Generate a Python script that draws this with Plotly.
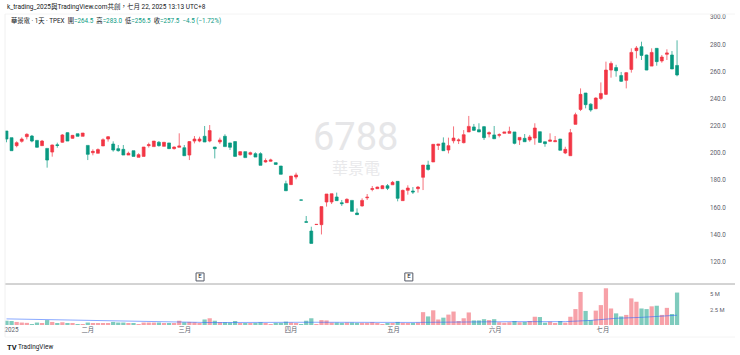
import plotly.graph_objects as go

opens = [216.2,211.3,205.4,208.6,212.0,212.5,209.3,205.4,203.4,200.7,206.0,207.9,215.0,210.8,214.2,212.3,205.6,200.2,199.8,205.2,
210.3,206.6,203.2,202.7,198.5,201.7,196.8,197.5,205.4,204.7,207.9,204.9,207.4,203.2,204.2,203.9,198.5,208.8,208.8,212.3,
208.8,204.4,208.1,212.3,207.4,208.4,198.5,201.0,199.0,199.5,199.5,193.4,193.9,192.9,190.4,177.4,176.7,182.3,165.4,149.4,
142.5,147.3,147.2,163.9,163.9,167.6,163.4,163.4,165.1,155.8,161.0,167.0,173.2,173.7,173.7,175.9,176.6,179.1,164.9,172.5,
172.0,173.7,182.1,191.1,193.4,205.6,207.4,202.2,209.0,209.0,207.6,215.5,219.2,217.2,219.4,214.0,213.3,213.0,214.5,214.5,
215.5,209.6,210.8,209.6,211.0,215.7,208.3,208.6,208.3,210.3,200.0,198.0,221.1,232.1,244.2,236.0,232.6,240.2,243.2,261.1,
262.9,257.0,253.5,261.6,275.4,278.3,272.2,264.0,277.1,267.8,272.7,272.2,264.5]
highs = [216.2,211.3,208.6,211.5,214.5,213.3,209.5,209.6,203.4,206.2,207.6,214.0,215.3,213.3,214.2,214.7,205.6,202.7,203.4,210.8,
212.5,208.6,205.9,205.9,201.0,201.7,199.8,204.4,207.6,208.8,208.8,207.9,207.4,204.8,214.5,205.9,208.8,212.5,212.0,219.9,
220.6,204.4,211.3,213.8,207.4,208.4,201.3,201.0,201.0,200.5,200.5,196.0,195.8,192.9,190.4,179.6,183.0,185.5,165.4,153.6,
145.7,147.4,160.5,169.8,170.0,170.8,165.4,166.6,165.1,159.2,166.6,169.8,175.7,175.2,176.4,177.1,179.4,179.1,173.0,176.2,
174.9,175.7,191.1,194.3,206.4,206.6,211.5,211.3,219.6,210.8,216.9,227.3,221.4,221.9,219.9,215.9,219.9,214.5,215.5,219.4,
215.5,211.5,214.0,213.3,221.9,215.7,208.3,214.5,212.5,210.3,204.6,217.7,229.7,247.6,244.2,236.6,241.0,252.0,267.3,267.5,
265.0,259.7,259.7,277.1,278.8,282.0,272.5,277.1,277.1,272.2,276.4,275.1,283.0]
lows = [207.9,201.7,204.2,207.6,210.0,207.9,204.0,205.4,189.2,197.3,203.9,207.5,208.8,210.5,212.3,212.3,194.8,198.3,199.8,205.2,
208.4,201.0,201.0,198.5,198.5,197.5,196.8,197.5,204.0,204.7,204.7,204.9,203.2,202.6,204.2,198.0,194.8,207.1,207.9,208.1,
207.9,196.0,206.6,204.7,202.2,197.5,198.2,196.6,198.3,197.0,190.9,192.9,193.6,191.6,184.3,172.2,176.7,180.6,165.3,149.0,
133.4,147.3,140.0,160.5,162.4,164.9,161.0,163.2,157.0,154.6,160.5,165.4,171.8,173.5,173.5,172.7,176.4,164.4,164.9,169.3,
169.8,170.8,172.7,187.0,193.4,202.2,201.7,199.7,207.1,206.6,207.1,215.5,216.2,215.5,209.6,211.5,210.5,211.5,214.5,214.5,
206.4,205.9,208.3,208.3,206.1,207.8,204.6,208.3,208.3,202.0,199.2,197.8,221.0,230.9,232.9,230.4,232.6,239.0,242.7,255.5,
256.2,252.3,247.6,259.2,269.7,268.5,261.0,264.0,264.3,266.5,268.5,261.9,256.5]
closes = [210.3,201.7,207.6,210.3,213.8,208.8,204.2,208.8,194.8,205.9,205.6,213.3,208.8,213.0,212.3,214.7,199.0,201.2,202.5,209.8,
212.0,202.2,201.7,198.5,199.8,197.5,198.8,204.4,206.1,208.8,205.4,207.9,203.2,204.4,205.2,198.0,208.4,210.3,210.3,208.1,
216.5,203.2,209.6,204.7,204.2,197.5,201.0,196.6,200.2,197.0,190.9,194.4,194.9,191.6,184.3,172.2,183.0,183.8,165.3,149.0,
133.4,147.4,160.5,169.8,170.0,164.9,162.7,165.9,157.0,154.6,165.1,167.4,173.7,174.9,175.9,174.0,178.4,166.6,172.5,174.2,
171.3,174.9,191.1,187.9,206.4,206.6,201.7,205.4,211.0,209.6,213.5,219.6,216.7,215.5,211.3,215.0,210.5,213.5,215.5,215.9,
207.1,211.5,208.3,211.8,218.4,207.8,206.9,209.6,209.0,202.0,202.7,215.0,228.2,243.2,235.6,231.7,240.5,243.9,261.1,266.0,
260.6,252.8,259.2,274.1,277.3,271.9,261.1,274.1,267.3,270.7,273.7,261.9,257.5]
volumes_m = [0.70,0.65,0.50,0.40,0.35,0.15,0.40,0.25,0.80,0.50,0.25,0.45,0.30,0.25,0.10,0.12,0.40,0.25,0.25,0.25,
0.20,0.50,0.40,0.40,0.20,0.30,0.15,0.40,0.40,0.40,0.40,0.30,0.25,0.25,0.70,0.45,0.50,0.45,0.30,0.90,
1.10,0.70,0.45,0.45,0.40,0.65,0.30,0.30,0.20,0.35,0.45,0.20,0.15,0.35,0.35,0.55,0.40,0.30,0.10,0.70,
1.10,0.10,0.80,0.75,0.40,0.40,0.35,0.40,0.40,0.35,0.35,0.35,0.45,0.20,0.15,0.30,0.30,0.50,0.35,0.30,
0.35,0.40,2.10,1.40,2.40,0.90,1.20,1.70,2.20,0.65,1.10,2.05,0.75,0.75,0.95,0.80,0.95,0.45,0.38,0.45,
0.65,0.45,0.50,0.65,1.35,1.30,0.38,0.55,0.27,0.65,0.38,1.35,2.60,5.40,2.30,0.80,2.35,3.25,6.00,2.70,
1.90,1.40,1.65,4.35,3.80,2.70,2.60,3.05,3.15,1.65,2.80,1.80,5.30]
ma_index = [0,15,30,40,60,80,100,110,115,120,125,132]
ma_value = [1.0,0.8,0.55,0.4,0.45,0.42,0.55,0.55,0.75,1.1,1.25,1.6]
month_ticks = [1,16,35.1,56,76.2,96.2,117.4]
month_labels = ["2025","二月","三月","四月","五月","六月","七月"]
price_ticks = [120,140,160,180,200,220,240,260,280,300]
volume_ticks = [2.5,5]
volume_labels = ["2.5 M","5 M"]
earnings_index = [38.1,79.2]
earnings_price = [108.7,108.7]
index = list(range(len(closes)))

UP, DOWN, UP_V, DOWN_V, GREY = "#F23645", "#089981", "#F7A1A8", "#7FCBBD", "#131722"
GREY_TXT = "#5d606b"

W, H = 740, 355
PX0, PX1 = 5, 709
TOP, SEP, BOT = 14, 284, 325
X_RANGE = [(PX0 - 6.5) / 5.08, (PX1 - 6.5) / 5.08]

fig = go.Figure()
fig.add_trace(go.Candlestick(
    x=index, open=opens, high=highs, low=lows, close=closes, xaxis="x", yaxis="y",
    increasing=dict(line=dict(color=UP, width=0.7), fillcolor=UP),
    decreasing=dict(line=dict(color=DOWN, width=0.7), fillcolor=DOWN),
    whiskerwidth=0, hoverinfo="skip", showlegend=False))
vol_colors = [UP_V if c >= o else DOWN_V for o, c in zip(opens, closes)]
fig.add_trace(go.Bar(x=index, y=volumes_m, marker=dict(color=vol_colors, line=dict(width=0)),
                     width=0.84, xaxis="x2", yaxis="y2", showlegend=False, hoverinfo="skip"))
fig.add_trace(go.Scatter(x=ma_index, y=ma_value, mode="lines", line=dict(color="rgba(41,98,255,0.55)", width=1),
                         xaxis="x2", yaxis="y2", showlegend=False, hoverinfo="skip"))
fig.add_trace(go.Scatter(x=earnings_index, y=earnings_price, mode="markers+text", text=["E","E"],
                         textfont=dict(size=6, color=GREY, family="Roboto"), textposition="middle center",
                         marker=dict(symbol="square", size=8, color="white", line=dict(color="#555a66", width=1)),
                         xaxis="x", yaxis="y", showlegend=False, hoverinfo="skip"))

# y pixel(v) = 153 + (200 - v) * 1.3575
p_top = 200 + (153 - TOP) / 1.3575
p_bot = 200 - (SEP - 153) / 1.3575
TXT = "Roboto, Noto Sans CJK TC, sans-serif"
GC = "<span style='color:#089981'>%s</span>"
fig.update_layout(
    width=W, height=H, margin=dict(l=0, r=0, t=0, b=0), paper_bgcolor="white", plot_bgcolor="white",
    font=dict(family=TXT, size=7, color=GREY), boxgap=0.25, boxgroupgap=0.25,
    xaxis=dict(domain=[PX0/W, PX1/W], range=X_RANGE, showgrid=False, zeroline=False, showticklabels=False,
               rangeslider=dict(visible=False), anchor="y", ticks=""),
    yaxis=dict(domain=[1-SEP/H, 1-TOP/H], range=[p_bot, p_top], side="right", anchor="x", showgrid=False,
               zeroline=False, tickvals=price_ticks, ticktext=[f"{v:.1f}" for v in price_ticks],
               tickfont=dict(size=6.3, color=GREY_TXT), ticks="", showline=False),
    xaxis2=dict(domain=[PX0/W, PX1/W], range=X_RANGE, showgrid=False, zeroline=False, anchor="y2",
                tickvals=month_ticks, ticktext=month_labels, tickfont=dict(size=6.3, color=GREY_TXT), ticks="", ticklen=0),
    yaxis2=dict(domain=[1-BOT/H, 1-(SEP+1)/H], range=[0, (BOT-SEP-1)/6.12], side="right", anchor="x2", showgrid=False,
                zeroline=False, tickvals=volume_ticks, ticktext=volume_labels,
                tickfont=dict(size=5.8, color=GREY_TXT), ticks=""),
    shapes=[
        dict(type="line", xref="paper", yref="paper", x0=5/W, x1=735/W, y0=1-SEP/H, y1=1-SEP/H,
             line=dict(color="#a8a8a8", width=1)),
        dict(type="line", xref="paper", yref="paper", x0=5/W, x1=735/W, y0=1-TOP/H, y1=1-TOP/H,
             line=dict(color="#f4f4f4", width=1)),
        dict(type="line", xref="paper", yref="paper", x0=5/W, x1=735/W, y0=1-337/H, y1=1-337/H,
             line=dict(color="#f4f4f4", width=1)),
        dict(type="line", xref="paper", yref="paper", x0=PX0/W, x1=PX0/W, y0=1-337/H, y1=1-TOP/H,
             line=dict(color="#f0f0f0", width=1)),
    ],
    annotations=[
        dict(text="k_trading_2025與TradingView.com共創，七月 22, 2025 13:13 UTC+8", x=5/W, y=1-7/H, xref="paper", yref="paper",
             xanchor="left", yanchor="middle", showarrow=False, font=dict(size=6.5, color=GREY)),
        dict(text=("華景電 · 1天 · TPEX  開" + GC % "=264.5" + "  高" + GC % "=283.0" +
                   "  低" + GC % "=256.5" + "  收" + GC % "=257.5  −4.5 (−1.72%)"),
             x=9/W, y=1-20/H, xref="paper", yref="paper", xanchor="left", yanchor="middle", showarrow=False,
             font=dict(size=6.3, color=GREY)),
        dict(text="6788", x=355/W, y=1-137/H, xref="paper", yref="paper", yanchor="middle", showarrow=False,
             font=dict(size=38, color="#e6e6e8", family="Roboto, sans-serif")),
        dict(text="華景電", x=356/W, y=1-168/H, xref="paper", yref="paper", yanchor="middle", showarrow=False,
             font=dict(size=16, color="#e9e9eb")),
        dict(text="TradingView", x=16/W, y=1-347/H, xref="paper", yref="paper", xanchor="left", yanchor="middle", showarrow=False,
             font=dict(size=6.4, color=GREY, family="Roboto, sans-serif")),
        dict(text="<b>TV</b>", x=5/W, y=1-347/H, xref="paper", yref="paper", xanchor="left", yanchor="middle", showarrow=False,
             font=dict(size=7.5, color=GREY, family="Roboto, sans-serif")),
    ],
)
fig.write_html("out.html", config=dict(displayModeBar=False),
               post_script="document.body.style.margin='0';")
